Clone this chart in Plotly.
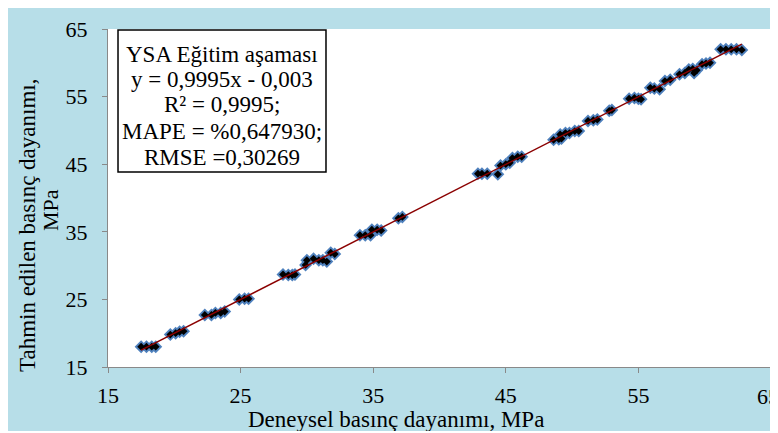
import plotly.graph_objects as go

# Experimental (x) vs predicted (y) compressive strength, MPa
experimental = [17.5, 17.9, 18.3, 18.6,
                19.7, 20.1, 20.4, 20.7,
                22.3, 22.8, 23.1, 23.5, 23.8,
                24.9, 25.3, 25.6,
                28.2, 28.6, 28.9, 29.1,
                29.9, 30.0, 30.5, 30.9, 31.2, 31.5, 31.8, 32.1,
                34.0, 34.4, 34.8, 34.9, 35.3, 35.6,
                36.9, 37.2,
                42.9, 43.2, 43.6, 44.4,
                44.6, 45.0, 45.3,
                45.5, 45.9, 46.2,
                48.6, 49.0, 49.2,
                49.1, 49.5,
                49.8, 50.2, 50.5,
                51.2, 51.6, 51.9,
                52.8, 53.0,
                54.3, 54.7, 55.0, 55.2,
                55.9, 56.2, 56.6,
                57.0, 57.4,
                58.1, 58.5,
                58.8, 59.2, 59.1, 59.4,
                59.8, 60.1, 60.4,
                61.2, 61.6, 62.0, 62.4, 62.8]
predicted = [18.0, 18.0, 18.0, 18.0,
             19.8, 20.0, 20.2, 20.3,
             22.7, 22.7, 23.0, 23.0, 23.2,
             25.0, 25.1, 25.1,
             28.7, 28.6, 28.6, 28.7,
             30.1, 30.8, 31.0, 30.8, 30.8, 30.6, 31.9, 31.7,
             34.5, 34.5, 34.5, 35.3, 35.3, 35.2,
             37.0, 37.2,
             43.6, 43.6, 43.6, 43.5,
             44.8, 45.0, 45.2,
             45.9, 46.1, 46.1,
             48.6, 48.7, 48.8,
             49.4, 49.6,
             49.6, 49.9, 49.9,
             51.4, 51.5, 51.6,
             52.9, 53.0,
             54.7, 54.8, 54.7, 54.6,
             56.3, 56.2, 56.1,
             57.3, 57.5,
             58.3, 58.5,
             59.0, 58.5, 59.1, 58.9,
             59.8, 59.9, 60.0,
             62.0, 62.0, 62.0, 62.0, 61.9]

slope = 0.9995
intercept = -0.003

axis_ticks = [15, 25, 35, 45, 55, 65]

box_lines = ["YSA Eğitim aşaması",
             "y = 0,9995x - 0,003",
             "R² = 0,9995;",
             "MAPE = %0,647930;",
             "RMSE =0,30269"]

x_title = "Deneysel basınç dayanımı, MPa"
y_title_lines = ["Tahmin edilen basınç dayanımı,", "MPa"]

FONT = "Liberation Serif"
BLUE_BG = "#B7DEE8"
AXIS_GRAY = "#898989"

trend_x = [min(experimental), max(experimental)]
trend_y = [slope * v + intercept for v in trend_x]

fig = go.Figure()
fig.add_trace(go.Scatter(x=experimental, y=predicted, mode="markers",
                         marker=dict(symbol="diamond", size=10, color="#4F81BD"),
                         showlegend=False, hoverinfo="skip"))
fig.add_trace(go.Scatter(x=experimental, y=predicted, mode="markers",
                         marker=dict(symbol="diamond", size=6, color="black"),
                         showlegend=False))
fig.add_trace(go.Scatter(x=trend_x, y=trend_y, mode="lines",
                         line=dict(color="#8B0000", width=1.5),
                         showlegend=False))

axis_common = dict(range=[15, 65], tickvals=axis_ticks, ticktext=[str(t) for t in axis_ticks],
                   showline=True, linecolor=AXIS_GRAY, linewidth=1,
                   ticks="outside", ticklen=5, tickcolor=AXIS_GRAY, tickwidth=1,
                   showgrid=False, zeroline=False, automargin=False,
                   tickfont=dict(family=FONT, size=22, color="black"))

# The page body adds an 8px offset; the figure itself is the blue panel.
fig.update_layout(
    width=770, height=423,
    margin=dict(l=100, r=7, t=21, b=64),
    paper_bgcolor=BLUE_BG,
    plot_bgcolor="white",
    xaxis=dict(**axis_common, ticklabelstandoff=4),
    yaxis=dict(**axis_common, ticklabelstandoff=10),
    font=dict(family=FONT, color="black"),
)

# last x tick label sits on the right edge and is partly clipped there, as in the original
fig.add_annotation(text=str(axis_ticks[-1]), xref="x", yref="paper", x=axis_ticks[-1] - 0.25, y=-0.0858,
                   xanchor="center", yanchor="middle", showarrow=False,
                   font=dict(family=FONT, size=22, color="black"))

# statistics box
fig.add_shape(type="rect", xref="paper", yref="paper", x0=0.0151, x1=0.3288, y0=0.577, y1=0.997,
              fillcolor="white", line=dict(color="black", width=1.5), layer="above")
box_y = [0.9231, 0.8506, 0.7766, 0.6982, 0.6213]
for txt, yy in zip(box_lines, box_y):
    fig.add_annotation(text=txt, xref="paper", yref="paper", x=0.172, y=yy,
                       xanchor="center", yanchor="middle", showarrow=False,
                       font=dict(family=FONT, size=23, color="black"))

# axis titles
fig.add_annotation(text=x_title, xref="paper", yref="paper", x=0.4344, y=-0.1540,
                   xanchor="center", yanchor="middle", showarrow=False,
                   font=dict(family=FONT, size=23, color="black"))
for txt, xx, yy, fs in zip(y_title_lines, [-0.1222, -0.086], [0.420, 0.4645], [23, 22]):
    fig.add_annotation(text=txt, xref="paper", yref="paper", x=xx, y=yy,
                       xanchor="center", yanchor="middle", showarrow=False, textangle=-90,
                       font=dict(family=FONT, size=fs, color="black"))

fig.write_html("out.html")
